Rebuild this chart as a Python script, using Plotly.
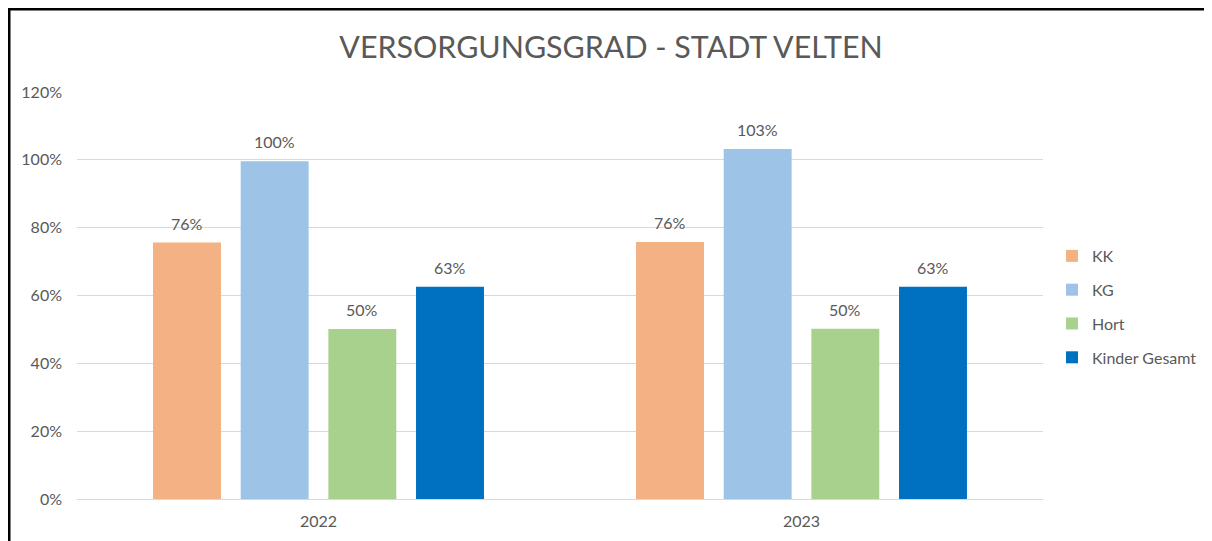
import plotly.graph_objects as go

years = ["2022", "2023"]
series_names = ["KK", "KG", "Hort", "Kinder Gesamt"]
kk = [0.756, 0.758]
kg = [0.996, 1.032]
hort = [0.501, 0.502]
gesamt = [0.626, 0.626]
y_ticks = [0, 0.2, 0.4, 0.6, 0.8, 1.0, 1.2]
y_tick_labels = ["0%", "20%", "40%", "60%", "80%", "100%", "120%"]
title_text = "VERSORGUNGSGRAD - STADT VELTEN"

colors = ["#F4B183", "#9DC3E6", "#A9D18E", "#0070C0"]
grey = "#595959"
font_family = "Lato, Carlito, Calibri, sans-serif"

# page body has an 8px margin; figure drawn offset by OFF
OFF = 8
W, H = 1212 - OFF, 541 - OFF
L, T = 77 - OFF, 92 - OFF
PW, PH = 966, 407
R = W - L - PW
B = H - T - PH

def px_x(p):
    return (p - OFF - L) / PW
def px_y(p):
    return (T + PH - (p - OFF)) / PH

fig = go.Figure()
all_series = [kk, kg, hort, gesamt]
for i, (name, vals) in enumerate(zip(series_names, all_series)):
    fig.add_trace(go.Bar(
        x=years, y=vals, name=name,
        marker=dict(color=colors[i], line=dict(width=0)),
        legendgroup=name, hoverinfo="x+y+name",
    ))

bargap = 0.274
bargroupgap = 0.225
slot = PW / len(years) * (1 - bargap) / len(series_names)
annotations = []
for i, vals in enumerate(all_series):
    for j, v in enumerate(vals):
        annotations.append(dict(
            x=j, y=v, xref="x", yref="y", text=f"{round(v * 100)}%",
            showarrow=False, yanchor="bottom", xanchor="center",
            xshift=(i - (len(series_names) - 1) / 2) * slot, yshift=8,
            font=dict(size=16, color=grey, family=font_family),
        ))

fig.update_layout(
    width=W, height=H,
    margin=dict(l=L, r=R, t=T, b=B, autoexpand=False),
    paper_bgcolor="white", plot_bgcolor="white",
    barmode="group", bargap=bargap, bargroupgap=bargroupgap,
    font=dict(family=font_family, color=grey, size=16),
    title=dict(text=title_text, xref="container", x=(611 - OFF) / W, xanchor="center",
               yref="container", y=1 - (47 - OFF) / H, yanchor="middle",
               font=dict(size=30.4, color=grey, family=font_family)),
    legend=dict(x=px_x(1052), xanchor="left", y=px_y(307), yanchor="middle",
                font=dict(size=16, color=grey), tracegroupgap=10,
                itemwidth=30, bgcolor="rgba(0,0,0,0)"),
    showlegend=True,
    annotations=annotations,
    xaxis=dict(type="category", showgrid=False, showline=True, linecolor="#D9D9D9", linewidth=1,
               ticks="", tickfont=dict(size=16, color=grey), ticklabelstandoff=8),
    yaxis=dict(range=[0, 1.2], tickvals=y_ticks, ticktext=y_tick_labels,
               showgrid=True, gridcolor="#D9D9D9", gridwidth=1, zeroline=False,
               showline=False, ticks="", tickfont=dict(size=16, color=grey),
               ticklabelstandoff=14),
    shapes=[dict(type="rect", xref="paper", yref="paper",
                 x0=px_x(9), x1=px_x(1209), y0=px_y(600), y1=px_y(9),
                 line=dict(color="black", width=3), fillcolor="rgba(0,0,0,0)", layer="above")],
)

fig.write_html("out.html")
